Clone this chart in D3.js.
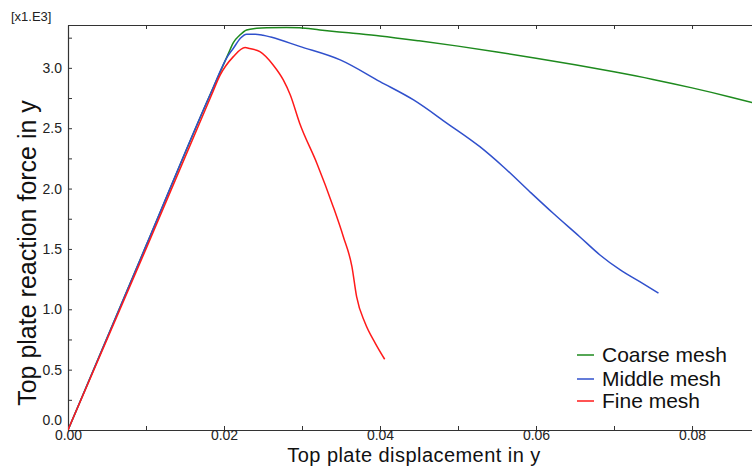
<!DOCTYPE html>
<html>
<head>
<meta charset="utf-8">
<script src="https://cdn.jsdelivr.net/npm/d3@7"></script>
<style>
  html, body { margin: 0; padding: 0; background: #fff; }
  svg { display: block; font-family: "Liberation Sans", Arial, sans-serif; }
</style>
</head>
<body>
<svg id="chart" width="752" height="466"></svg>
<script>
// ---- data ----
const seriesNames = ["Coarse mesh", "Middle mesh", "Fine mesh"];
const seriesColors = ["#1e8a1e", "#3050cc", "#ff1a1a"];

const coarseX = [0, 0.010, 0.0182, 0.0205, 0.0212, 0.0220, 0.0229, 0.0242, 0.0255, 0.0280, 0.0297, 0.0323, 0.0360, 0.0400, 0.0450, 0.0500, 0.0550, 0.0600, 0.0650, 0.0700, 0.0750, 0.0800, 0.0850, 0.0877];
const coarseY = [0, 1.525, 2.775, 3.11, 3.21, 3.27, 3.314, 3.328, 3.333, 3.335, 3.333, 3.314, 3.290, 3.264, 3.224, 3.180, 3.132, 3.080, 3.025, 2.967, 2.904, 2.834, 2.757, 2.712];

const middleX = [0, 0.010, 0.0182, 0.0205, 0.0212, 0.0221, 0.0229, 0.0240, 0.0250, 0.0260, 0.0297, 0.0349, 0.0400, 0.0443, 0.0486, 0.0528, 0.0558, 0.0592, 0.0622, 0.0656, 0.0682, 0.0708, 0.0733, 0.0757];
const middleY = [0, 1.525, 2.775, 3.10, 3.162, 3.245, 3.278, 3.279, 3.270, 3.255, 3.178, 3.066, 2.886, 2.734, 2.541, 2.347, 2.181, 1.974, 1.795, 1.601, 1.450, 1.326, 1.229, 1.133];

const fineX = [0, 0.010, 0.0184, 0.0195, 0.0212, 0.0227, 0.0233, 0.0246, 0.0263, 0.0276, 0.0285, 0.0297, 0.0319, 0.0340, 0.0353, 0.0364, 0.0370, 0.0381, 0.0394, 0.0406];
const fineY = [0, 1.50, 2.775, 2.94, 3.093, 3.168, 3.160, 3.134, 3.024, 2.900, 2.775, 2.541, 2.210, 1.850, 1.601, 1.353, 1.104, 0.884, 0.718, 0.586];

const xTickValues = [0, 0.01, 0.02, 0.03, 0.04, 0.05, 0.06, 0.07, 0.08];
const xLabelValues = [0, 0.02, 0.04, 0.06, 0.08];
const yTickValues = [0, 0.25, 0.5, 0.75, 1.0, 1.25, 1.5, 1.75, 2.0, 2.25, 2.5, 2.75, 3.0, 3.25];
const yLabelValues = [0, 0.5, 1.0, 1.5, 2.0, 2.5, 3.0];

const xTitle = "Top plate displacement in y";
const yTitle = "Top plate reaction force in y";
const yMultiplier = "[x1.E3]";

// ---- layout ----
const svg = d3.select("#chart");
const mLeft = 68, mRight = 752, mTop = 25, mBottom = 430;

const x = d3.scaleLinear().domain([0, 0.08769]).range([mLeft, mRight]);
const y = d3.scaleLinear().domain([0, 3.355]).range([mBottom, mTop]);

const axisColor = "#333";

svg.append("defs").append("clipPath").attr("id", "plotclip")
  .append("rect").attr("x", mLeft).attr("y", mTop - 2).attr("width", mRight - mLeft).attr("height", mBottom - mTop + 4);

// left axis
const gy = svg.append("g").attr("transform", `translate(${mLeft},0)`)
  .call(d3.axisLeft(y).tickValues(yTickValues).tickSize(-4).tickSizeOuter(0).tickPadding(6)
    .tickFormat(d => yLabelValues.some(v => Math.abs(v - d) < 1e-9) ? d3.format(".1f")(d) : ""));
gy.selectAll("text").attr("font-size", 14).attr("fill", "#222")
  .attr("dy", d => d === 0 ? "-0.4em" : "0.32em");

// bottom axis
const gx = svg.append("g").attr("transform", `translate(0,${mBottom})`)
  .call(d3.axisBottom(x).tickValues(xTickValues).tickSize(-4).tickSizeOuter(0).tickPadding(0.5)
    .tickFormat(d => xLabelValues.some(v => Math.abs(v - d) < 1e-9) ? d3.format(".2f")(d) : ""));
gx.selectAll("text").attr("font-size", 14).attr("fill", "#222");

// top axis (no labels)
const gt = svg.append("g").attr("transform", `translate(0,${mTop})`)
  .call(d3.axisTop(x).tickValues(xTickValues).tickSize(-4).tickSizeOuter(0).tickFormat(""));

[gy, gx, gt].forEach(g => {
  g.attr("font-family", null);
  g.select(".domain").attr("stroke", axisColor).attr("stroke-width", 1.2);
  g.selectAll(".tick line").attr("stroke", axisColor).attr("stroke-width", 1);
});

// lines
const seriesData = [
  coarseX.map((v, i) => [v, coarseY[i]]),
  middleX.map((v, i) => [v, middleY[i]]),
  fineX.map((v, i) => [v, fineY[i]])
];
const line = d3.line().x(d => x(d[0])).y(d => y(d[1])).curve(d3.curveMonotoneX);

const plot = svg.append("g").attr("clip-path", "url(#plotclip)");
seriesData.forEach((data, i) => {
  plot.append("path").datum(data)
    .attr("fill", "none").attr("stroke", seriesColors[i]).attr("stroke-width", 1.5)
    .attr("stroke-linejoin", "round").attr("d", line);
});

// titles
svg.append("text").attr("x", 414).attr("y", 462).attr("text-anchor", "middle")
  .attr("font-size", 20).attr("letter-spacing", "0.45px").attr("fill", "#111").text(xTitle);
svg.append("text").attr("transform", "translate(36,253) rotate(-90)").attr("text-anchor", "middle")
  .attr("font-size", 25).attr("fill", "#111").text(yTitle);
svg.append("text").attr("x", 11).attr("y", 21).attr("font-size", 13).attr("fill", "#222").text(yMultiplier);

// legend
const legendY = [355, 379, 401];
seriesNames.forEach((name, i) => {
  svg.append("line").attr("x1", 577).attr("x2", 594).attr("y1", legendY[i]).attr("y2", legendY[i])
    .attr("stroke", seriesColors[i]).attr("stroke-width", 1.5);
  svg.append("text").attr("x", 602).attr("y", legendY[i]).attr("dy", "0.35em")
    .attr("font-size", 21).attr("fill", "#111").text(name);
});
</script>
</body>
</html>
